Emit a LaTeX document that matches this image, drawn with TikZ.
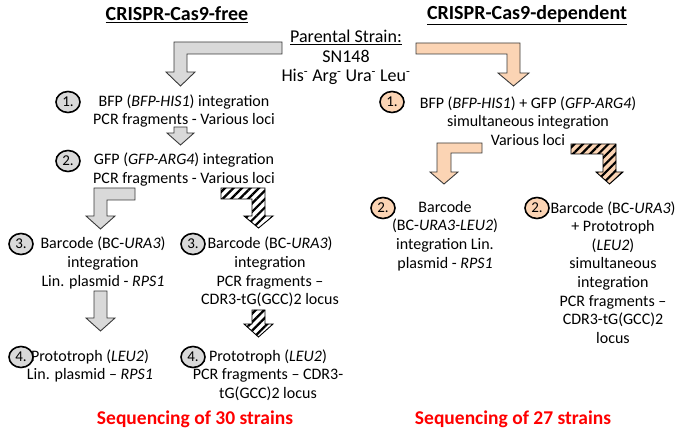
\documentclass[tikz,border=0pt]{standalone}
\usepackage{fontspec}
\setmainfont{Carlito}
\usetikzlibrary{patterns.meta,shapes.geometric}
\definecolor{cgray}{HTML}{D9D9D9}
\definecolor{cdark}{HTML}{3A3A3A}
\definecolor{corange}{HTML}{FBD4B4}
\definecolor{cred}{HTML}{FF0000}
\begin{document}
\begin{tikzpicture}[x=1pt,y=-1pt,
  txt/.style={font=\fontsize{16}{18.6}\selectfont, align=center, inner sep=0pt},
  ttl/.style={font=\fontsize{20}{22}\selectfont\bfseries, inner sep=0pt},
  seq/.style={font=\fontsize{19.5}{22}\selectfont\bfseries, text=cred, inner sep=0pt},
  num/.style={ellipse, draw=black, line width=1.6pt, minimum width=24pt, minimum height=21pt, inner sep=0pt, font=\fontsize{15}{15}\selectfont},
  gnum/.style={num, fill=cgray},
  onum/.style={num, fill=corange},
  garrow/.style={draw=cdark, line width=0.9pt, fill=cgray, line join=miter},
  oarrow/.style={draw=cdark, line width=0.9pt, fill=corange, line join=miter},
  hatch/.style={draw=black, line width=0.9pt, pattern={Lines[angle=45,distance=6pt,line width=2.2pt]}, pattern color=black},
  ohatch/.style={hatch, preaction={fill=corange}},
  whatch/.style={hatch, preaction={fill=white}}]
\useasboundingbox (0,0) rectangle (675,430);

% headers
\node[ttl] (titleL) at (177,15) {\underline{CRISPR-Cas9-free}};
\node[ttl] (titleR) at (527,15) {\underline{CRISPR-Cas9-dependent}};
\node[txt, font=\fontsize{18}{19.5}\selectfont] (parent) at (346,57.5)
  {\underline{Parental Strain:}\\SN148\\His\textsuperscript{-} Arg\textsuperscript{-} Ura\textsuperscript{-} Leu\textsuperscript{-}};

% arrows
\path[garrow] (282,42) -- (174,42) -- (174,72) -- (166,72) -- (180.5,86) -- (195,72) -- (187,72) -- (187,54) -- (282,54) -- cycle;
\path[oarrow] (416,43) -- (520,43) -- (520,73) -- (529,73) -- (513.5,86) -- (498,73) -- (507,73) -- (507,54) -- (416,54) -- cycle;
\path[garrow] (174,127) -- (187,127) -- (187,133) -- (194,133) -- (180.5,145) -- (167,133) -- (174,133) -- cycle;
\path[garrow] (135,188) -- (94,188) -- (94,216) -- (86,216) -- (100.5,229) -- (115,216) -- (107,216) -- (107,200) -- (135,200) -- cycle;
\path[whatch] (221,188) -- (265,188) -- (265,216) -- (273,216) -- (258.5,228) -- (244,216) -- (252,216) -- (252,199) -- (221,199) -- cycle;
\path[garrow] (94,291) -- (107,291) -- (107,318) -- (115,318) -- (100.5,331) -- (86,318) -- (94,318) -- cycle;
\path[whatch] (252,310) -- (265,310) -- (265,324) -- (273,324) -- (258.5,337) -- (244,324) -- (252,324) -- cycle;
\path[oarrow] (482,143) -- (437,143) -- (437,172) -- (430,172) -- (444,184) -- (458,172) -- (451,172) -- (451,153) -- (482,153) -- cycle;
\path[ohatch] (571,144) -- (616,144) -- (616,172) -- (623,172) -- (609.5,184) -- (596,172) -- (603,172) -- (603,154) -- (571,154) -- cycle;

% left column
\node[gnum] (c1) at (68,102) {1.};
\node[txt] (t1) at (184,111) {BFP (\textit{BFP-HIS1}) integration\\PCR fragments - Various loci};
\node[gnum] (c2) at (68,161) {2.};
\node[txt] (t2) at (184,169.5) {GFP (\textit{GFP-ARG4}) integration\\PCR fragments - Various loci};
\node[gnum] (c3L) at (21,244) {3.};
\node[txt] (t3L) at (103,263) {Barcode (BC-\textit{URA3})\\integration\\Lin. plasmid - \textit{RPS1}};
\node[gnum] (c4L) at (21,357) {4.};
\node[txt] (t4L) at (90,366) {Prototroph (\textit{LEU2})\\Lin. plasmid -- \textit{RPS1}};
\node[gnum] (c3R) at (193,244) {3.};
\node[txt] (t3R) at (270,272) {Barcode (BC-\textit{URA3})\\integration\\PCR fragments --\\CDR3-tG(GCC)2 locus};
\node[gnum] (c4R) at (193,357) {4.};
\node[txt] (t4R) at (268,375) {Prototroph (\textit{LEU2})\\PCR fragments -- CDR3-\\tG(GCC)2 locus};
\node[seq] (seq30) at (195,419) {Sequencing of 30 strains};

% right column
\node[onum] (d1) at (392,102) {1.};
\node[txt] (u1) at (528,121) {BFP (\textit{BFP-HIS1}) + GFP (\textit{GFP-ARG4})\\simultaneous integration\\Various loci};
\node[onum] (d2a) at (383,208) {2.};
\node[txt] (u2a) at (445,236) {Barcode\\(BC-\textit{URA3-LEU2})\\integration Lin.\\plasmid - \textit{RPS1}};
\node[onum] (d2b) at (537,208) {2.};
\node[txt] (u2b) at (613,272.5) {Barcode (BC-\textit{URA3})\\+ Prototroph\\(\textit{LEU2})\\simultaneous\\integration\\PCR fragments --\\CDR3-tG(GCC)2\\locus};
\node[seq] (seq27) at (513,419) {Sequencing of 27 strains};
\end{tikzpicture}
\end{document}
